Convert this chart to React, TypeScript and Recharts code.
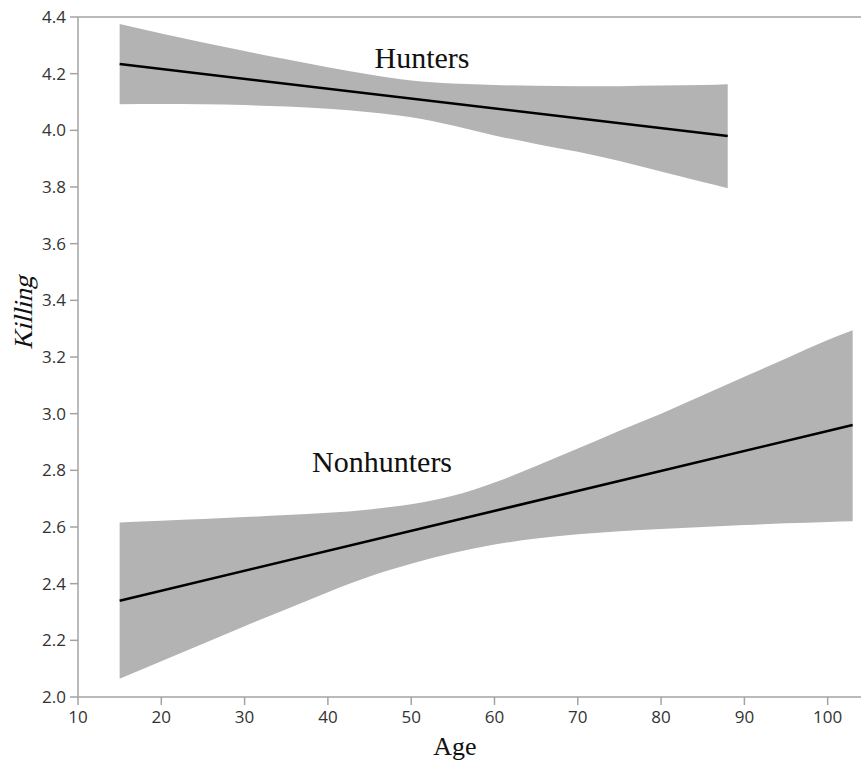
import {
  ComposedChart,
  Area,
  Line,
  XAxis,
  YAxis,
  ReferenceLine,
  ReferenceDot,
} from "recharts";

// band edges (ages, lower / upper limit)
const hunterAges = [15, 20, 25, 30, 35, 40, 45, 50, 55, 60, 65, 70, 75, 80, 85, 88];
const hunterLow = [4.092, 4.093, 4.092, 4.089, 4.084, 4.076, 4.064, 4.046, 4.017, 3.982, 3.952, 3.924, 3.892, 3.855, 3.818, 3.796];
const hunterHigh = [4.375, 4.342, 4.31, 4.28, 4.251, 4.223, 4.197, 4.176, 4.165, 4.16, 4.157, 4.156, 4.156, 4.158, 4.16, 4.163];

const nonhunterAges = [15, 20, 25, 30, 35, 40, 45, 50, 55, 60, 65, 70, 75, 80, 85, 90, 95, 100, 103];
const nonhunterLow = [2.064, 2.126, 2.188, 2.25, 2.31, 2.37, 2.425, 2.47, 2.508, 2.538, 2.559, 2.574, 2.585, 2.593, 2.6, 2.607, 2.613, 2.618, 2.62];
const nonhunterHigh = [2.616, 2.622, 2.628, 2.635, 2.642, 2.65, 2.662, 2.68, 2.71, 2.757, 2.815, 2.877, 2.94, 3.0, 3.065, 3.13, 3.195, 3.26, 3.294];

// fitted lines, end points
const hunterFitAges = [15, 88];
const hunterFit = [4.234, 3.98];
const nonhunterFitAges = [15, 103];
const nonhunterFit = [2.34, 2.96];

const xTicks = [10, 20, 30, 40, 50, 60, 70, 80, 90, 100];
const yTicks = [2.0, 2.2, 2.4, 2.6, 2.8, 3.0, 3.2, 3.4, 3.6, 3.8, 4.0, 4.2, 4.4];

const hunterBand = hunterAges.map((age, i) => ({ age, band: [hunterLow[i], hunterHigh[i]] }));
const nonhunterBand = nonhunterAges.map((age, i) => ({ age, band: [nonhunterLow[i], nonhunterHigh[i]] }));
const hunterLine = hunterFitAges.map((age, i) => ({ age, fit: hunterFit[i] }));
const nonhunterLine = nonhunterFitAges.map((age, i) => ({ age, fit: nonhunterFit[i] }));

const axisColor = "#a3a3a3";
const tickStyle = { fill: "#333", fontSize: 17, fontFamily: "Open Sans" };
const serif = "Liberation Serif";

const groupLabel = (text: string) => (props: any) => {
  const { x, y } = props.viewBox || {};
  return (
    <text x={x} y={y} fontFamily={serif} fontSize={30} fill="#111">
      {text}
    </text>
  );
};

export default function App() {
  return (
    <div style={{ position: "absolute", left: 0, top: 0, background: "#fff" }}>
      <ComposedChart
        width={861}
        height={762}
        margin={{ top: 17, right: 0, left: 0, bottom: 0 }}
      >
        <XAxis
          type="number"
          dataKey="age"
          domain={[10, 104]}
          ticks={xTicks}
          allowDataOverflow
          height={65}
          tick={tickStyle}
          tickSize={8}
          tickMargin={6}
          axisLine={{ stroke: axisColor, strokeWidth: 1.5 }}
          tickLine={{ stroke: axisColor, strokeWidth: 1.5 }}
          label={{
            content: () => (
              <text x={455} y={755} textAnchor="middle" fontFamily={serif} fontSize={26} fill="#111">
                Age
              </text>
            ),
          }}
        />
        <YAxis
          type="number"
          domain={[2, 4.4]}
          ticks={yTicks}
          allowDataOverflow
          width={78}
          tick={tickStyle}
          tickSize={8}
          tickMargin={4}
          tickFormatter={(v: number) => v.toFixed(1)}
          axisLine={{ stroke: axisColor, strokeWidth: 1.5 }}
          tickLine={{ stroke: axisColor, strokeWidth: 1.5 }}
          label={{
            content: () => (
              <text
                x={32}
                y={313}
                transform="rotate(-90 32 313) translate(32 313) skewX(-14) translate(-32 -313)"
                textAnchor="middle"
                fontFamily={serif}
                fontSize={26}
                fill="#111"
              >
                Killing
              </text>
            ),
          }}
        />
        <ReferenceLine y={4.4} stroke={axisColor} strokeWidth={1.5} />
        <Area
          data={hunterBand}
          dataKey="band"
          type="monotone"
          stroke="none"
          fill="#b3b3b3"
          fillOpacity={1}
          isAnimationActive={false}
          activeDot={false}
        />
        <Area
          data={nonhunterBand}
          dataKey="band"
          type="monotone"
          stroke="none"
          fill="#b3b3b3"
          fillOpacity={1}
          isAnimationActive={false}
          activeDot={false}
        />
        <Line
          data={hunterLine}
          dataKey="fit"
          stroke="#000"
          strokeWidth={2.5}
          dot={false}
          isAnimationActive={false}
        />
        <Line
          data={nonhunterLine}
          dataKey="fit"
          stroke="#000"
          strokeWidth={2.5}
          dot={false}
          isAnimationActive={false}
        />
        <ReferenceDot x={45.6} y={4.22} r={0} stroke="none" fill="none" label={{ content: groupLabel("Hunters") }} />
        <ReferenceDot x={38.1} y={2.794} r={0} stroke="none" fill="none" label={{ content: groupLabel("Nonhunters") }} />
      </ComposedChart>
    </div>
  );
}
